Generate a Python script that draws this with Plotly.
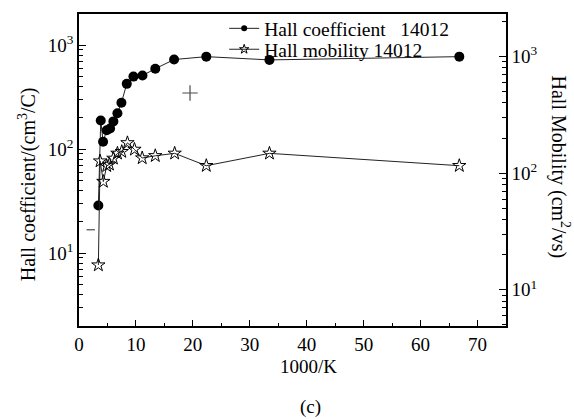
import plotly.graph_objects as go

# Hall coefficient (left axis, cm^3/C)
x_coef = [3.40, 3.82, 4.23, 4.87, 5.46, 6.04, 6.75, 7.45, 8.39, 9.56, 11.15, 13.4, 16.7, 22.36, 33.45, 66.8]
hall_coef = [28.8, 189, 118, 152, 158, 185, 222, 280, 425, 499, 511, 594, 728, 776, 722, 776]

# Hall mobility (right axis, cm^2/Vs)
x_mob = [3.40, 3.70, 4.28, 4.87, 5.34, 6.04, 6.75, 7.51, 8.51, 9.74, 11.1, 13.4, 16.8, 22.36, 33.45, 66.8]
hall_mob = [16.3, 127, 84.8, 115.6, 119, 134, 148, 153, 182, 160, 135, 141, 148, 116, 148, 116]

# stray marks present in the original figure (left-axis coordinates)
stray_x = [19.5, 2.06]
stray_y = [347, 16.8]
stray_symbols = ["cross-thin", "line-ew"]

# log tick labels
log_tickvals = [10, 100, 1000]
log_ticktext = ["10<sup>1</sup>", "10<sup>2</sup>", "10<sup>3</sup>"]
minor_vals = [m * 10 ** e for e in range(0, 4) for m in range(2, 10)]

FONT = "Liberation Serif"

fig = go.Figure()
fig.add_trace(go.Scatter(
    x=x_coef, y=hall_coef, mode="lines+markers", showlegend=False,
    line=dict(color="#222", width=1),
    marker=dict(symbol="circle", size=10, color="black"),
))
fig.add_trace(go.Scatter(
    x=x_mob, y=hall_mob, mode="lines+markers", yaxis="y2", showlegend=False,
    line=dict(color="#222", width=1),
    marker=dict(symbol="star-open", size=10, color="black", line=dict(width=1)),
))
fig.add_trace(go.Scatter(
    x=stray_x, y=stray_y, mode="markers", showlegend=False,
    marker=dict(symbol=stray_symbols, size=[11, 6], color="black",
                line=dict(width=1.2, color="black")),
))
# legend entries (small symbols, like the original)
fig.add_trace(go.Scatter(
    x=[None], y=[None], mode="lines+markers", legend="legend",
    name="Hall coefficient\u00a0\u00a0\u00a014012",
    line=dict(color="#222", width=1),
    marker=dict(symbol="circle", size=6, color="black"),
))
fig.add_trace(go.Scatter(
    x=[None], y=[None], mode="lines+markers", legend="legend2",
    name="Hall mobility 14012",
    line=dict(color="#222", width=1),
    marker=dict(symbol="star-open", size=7, color="black", line=dict(width=1)),
))

axis_common = dict(showgrid=False, zeroline=False, showline=True, linecolor="black",
                   linewidth=1.5, ticks="inside", tickcolor="black",
                   tickfont=dict(family=FONT, size=19, color="black"))

legend_common = dict(xanchor="left", yanchor="middle", bgcolor="rgba(0,0,0,0)",
                     font=dict(family=FONT, size=19.5, color="black"),
                     itemsizing="trace")

fig.update_layout(
    width=574, height=419,
    margin=dict(l=79, r=68, t=9, b=93),
    paper_bgcolor="white", plot_bgcolor="white",
    font=dict(family=FONT, size=18, color="black"),
    xaxis=dict(range=[0, 75], dtick=10, ticklen=6, mirror=True,
               minor=dict(ticks="inside", dtick=5, ticklen=3, tickcolor="black"),
               **axis_common),
    yaxis=dict(type="log", range=[0.3, 3.3], tickmode="array", tickvals=log_tickvals,
               ticktext=log_ticktext, ticklen=7,
               minor=dict(ticks="inside", ticklen=4, tickcolor="black", tickvals=minor_vals),
               **axis_common),
    yaxis2=dict(type="log", range=[0.69, 3.365], tickmode="array", tickvals=log_tickvals,
                ticktext=log_ticktext, ticklen=7,
                overlaying="y", side="right",
                minor=dict(ticks="inside", ticklen=4, tickcolor="black", tickvals=minor_vals),
                **axis_common),
    legend=dict(x=0.34, y=0.953, **legend_common),
    legend2=dict(x=0.34, y=0.886, **legend_common),
    annotations=[
        dict(text="Hall coefficient/(cm<sup>3</sup>/C)", xref="paper", yref="paper",
             x=-0.122, y=0.454, textangle=-90, showarrow=False,
             xanchor="center", yanchor="middle", font=dict(family=FONT, size=20)),
        dict(text="Hall Mobility (cm<sup>2</sup>/vs)", xref="paper", yref="paper",
             x=1.1265, y=0.511, textangle=90, showarrow=False,
             xanchor="center", yanchor="middle", font=dict(family=FONT, size=20)),
        dict(text="1000/K", xref="paper", yref="paper", x=0.5386, y=-0.129,
             showarrow=False, xanchor="center", yanchor="middle",
             font=dict(family=FONT, size=19)),
        dict(text="(c)", xref="paper", yref="paper", x=0.543, y=-0.259,
             showarrow=False, xanchor="center", yanchor="middle",
             font=dict(family=FONT, size=19)),
    ],
)

fig.write_html("out.html")
